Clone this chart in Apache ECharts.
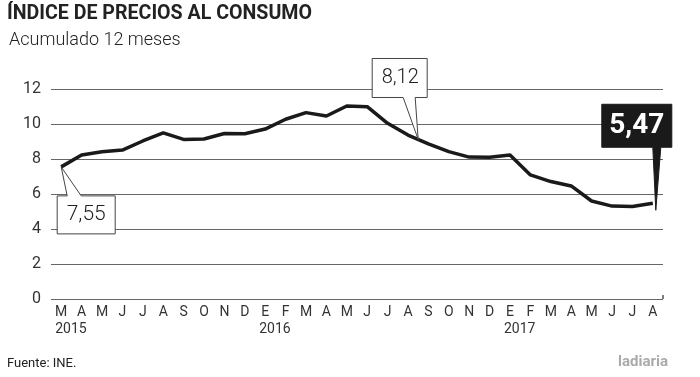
<!DOCTYPE html>
<html><head><meta charset="utf-8">
<script src="https://cdn.jsdelivr.net/npm/echarts@6/dist/echarts.min.js"></script>
<style>html,body{margin:0;padding:0;background:#fff}#c{width:700px;height:377px}</style>
</head><body><div id="c"></div>
<script>
const months = ['M','A','M','J','J','A','S','O','N','D','E','F','M','A','M','J','J','A','S','O','N','D','E','F','M','A','M','J','J','A'];
const years = ['2015','','','','','','','','','','2016','','','','','','','','','','','','2017','','','','','','',''];
const values = [7.55, 8.23, 8.42, 8.51, 9.03, 9.49, 9.12, 9.14, 9.46, 9.44, 9.71, 10.27, 10.65, 10.46, 11.03, 10.99, 10.04, 9.37, 8.86, 8.42, 8.11, 8.10, 8.23, 7.09, 6.71, 6.46, 5.60, 5.31, 5.28, 5.47];
const yTicks = [0, 2, 4, 6, 8, 10, 12];
const midLabel = '8,12';
const title = 'ÍNDICE DE PRECIOS AL CONSUMO';
const subtitle = 'Acumulado 12 meses';
const source = 'Fuente: INE.';
const brand = 'ladiaria';

const FONT = "Roboto, 'Liberation Sans', sans-serif";
const fmt = v => v.toFixed(2).replace('.', ',');

const chart = echarts.init(document.getElementById('c'), null, {renderer: 'canvas'});
const option = {
  animation: false,
  textStyle: {fontFamily: FONT},
  grid: {left: 51, right: 37, top: 89, bottom: 78},
  xAxis: [{
    type: 'category', data: months, boundaryGap: true,
    axisLine: {show: false}, axisTick: {show: false},
    axisLabel: {interval: 0, margin: 6, fontSize: 14, color: '#333', fontFamily: FONT}
  }, {
    type: 'category', data: years, boundaryGap: true, position: 'bottom',
    axisLine: {show: false}, axisTick: {show: false},
    axisLabel: {interval: 0, margin: 23, fontSize: 14, color: '#333', align: 'left', padding: [0, 0, 0, -6], fontFamily: FONT}
  }],
  yAxis: {
    type: 'value', min: yTicks[0], max: yTicks[yTicks.length - 1], interval: 2,
    axisLine: {show: false}, axisTick: {show: false},
    axisLabel: {margin: 10, fontSize: 16, color: '#333', fontFamily: FONT},
    splitLine: {lineStyle: {color: '#666', width: 1.2}}
  },
  series: [{
    type: 'line', data: values, xAxisIndex: 0, showSymbol: false,
    lineStyle: {color: '#1a1a1a', width: 3.5}, itemStyle: {color: '#1a1a1a'}
  }]
};
chart.setOption(option);

const p0 = chart.convertToPixel({seriesIndex: 0}, [0, values[0]]);
const pa = chart.convertToPixel({seriesIndex: 0}, [17, values[17]]);
const pb = chart.convertToPixel({seriesIndex: 0}, [18, values[18]]);
const pm = [pa[0] + (pb[0] - pa[0]) * 0.5, pa[1] + (pb[1] - pa[1]) * 0.5];
const last = values.length - 1;
const pl = chart.convertToPixel({seriesIndex: 0}, [last, values[last]]);
const gridRight = 700 - 37, gridBottom = 377 - 78;

chart.setOption({graphic: [
  {type: 'text', left: 7, top: 4, style: {text: title, font: "bold 19.6px " + FONT, fill: '#222'}},
  {type: 'text', left: 9, top: 31, style: {text: subtitle, font: "300 18px " + FONT, fill: '#222'}},
  {type: 'text', left: 7, top: 357, style: {text: source, font: "13px " + FONT, fill: '#222'}},
  {type: 'text', left: 618, top: 355, style: {text: brand, font: "bold 15px " + FONT, fill: '#aaa'}},
  {type: 'line', shape: {x1: gridRight, y1: gridBottom - 4, x2: gridRight, y2: gridBottom}, style: {stroke: '#555', lineWidth: 1.5}},
  // 7,55 callout
  {type: 'polygon', z: 10, shape: {points: [
    [p0[0] - 4, p0[1] + 29], [p0[0] + 6, p0[1] + 29], p0, [p0[0] + 20, p0[1] + 29],
    [p0[0] + 54, p0[1] + 29], [p0[0] + 54, p0[1] + 67], [p0[0] - 4, p0[1] + 67]]},
    style: {fill: '#fff', stroke: '#444', lineWidth: 1}},
  {type: 'text', z: 11, x: p0[0] + 25, y: p0[1] + 48, style: {text: fmt(values[0]), font: "300 21px " + FONT, fill: '#222', align: 'center', verticalAlign: 'middle'}},
  // 8,12 callout
  {type: 'polygon', z: 10, shape: {points: [
    [pm[0] - 46, pm[1] - 81], [pm[0] + 9, pm[1] - 81], [pm[0] + 9, pm[1] - 42],
    [pm[0] - 3, pm[1] - 42], pm, [pm[0] - 15, pm[1] - 42], [pm[0] - 46, pm[1] - 42]]},
    style: {fill: '#fff', stroke: '#444', lineWidth: 1}},
  {type: 'text', z: 11, x: pm[0] - 18, y: pm[1] - 61, style: {text: midLabel, font: "300 20px " + FONT, fill: '#222', align: 'center', verticalAlign: 'middle'}},
  // 5,47 callout
  {type: 'polygon', z: 10, shape: {points: [
    [pl[0] - 51, pl[1] - 99], [pl[0] + 19, pl[1] - 99], [pl[0] + 19, pl[1] - 56],
    [pl[0] + 8, pl[1] - 56], [pl[0] + 3, pl[1] + 7], [pl[0], pl[1] - 56], [pl[0] - 51, pl[1] - 56]]},
    style: {fill: '#1a1a1a', stroke: '#1a1a1a', lineWidth: 1}},
  {type: 'text', z: 11, x: pl[0] - 16, y: pl[1] - 77, style: {text: fmt(values[last]), font: "bold 28px " + FONT, fill: '#fff', align: 'center', verticalAlign: 'middle'}}
]});
</script></body></html>
